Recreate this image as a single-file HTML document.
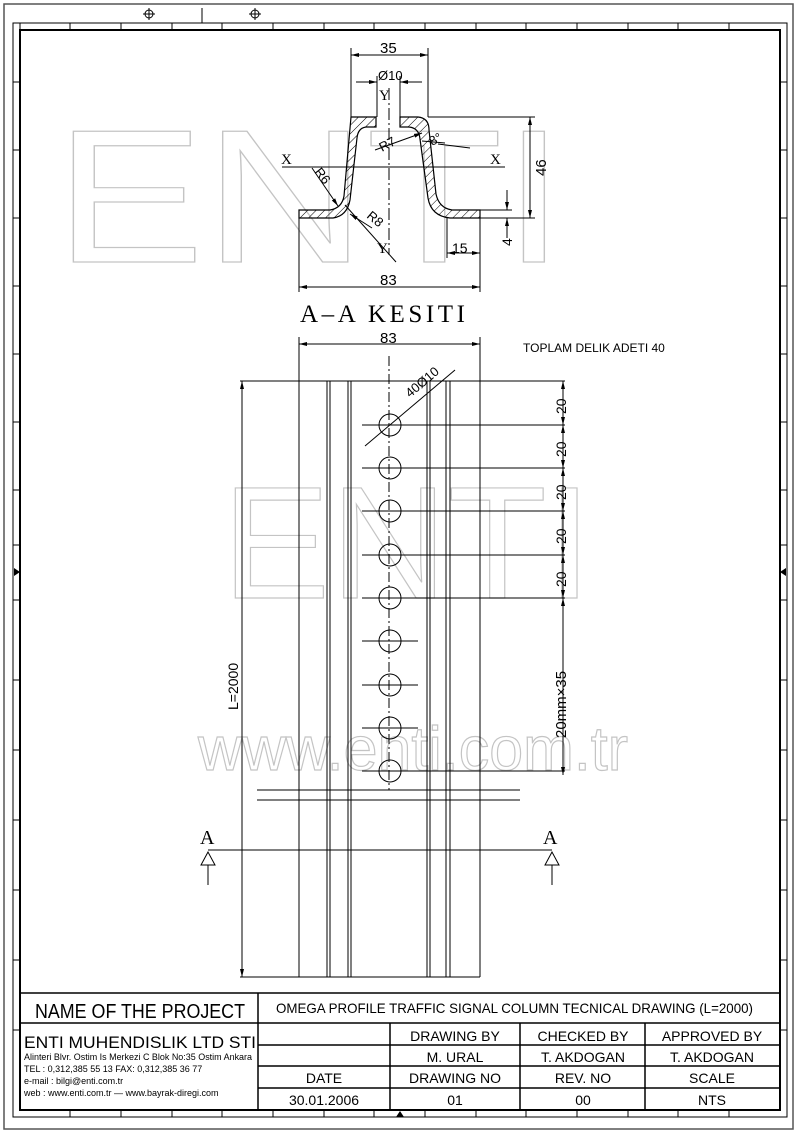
<!DOCTYPE html>
<html><head><meta charset="utf-8"><style>
html,body{margin:0;padding:0;background:#fff;width:800px;height:1133px;overflow:hidden}
svg{display:block}
text{font-family:"Liberation Sans",sans-serif;fill:#000}
.s{font-family:"Liberation Serif",serif}
</style></head><body>
<svg width="800" height="1133" viewBox="0 0 800 1133" xmlns="http://www.w3.org/2000/svg">
<defs>
<pattern id="h" width="6" height="6" patternUnits="userSpaceOnUse" patternTransform="rotate(45)">
<line x1="0" y1="0" x2="0" y2="6" stroke="#000" stroke-width="1"/></pattern>
<marker id="a" markerWidth="8" markerHeight="6" refX="8" refY="3" orient="auto-start-reverse" markerUnits="userSpaceOnUse">
<path d="M0,1 L8,3 L0,5 Z" fill="#000"/></marker>
</defs>
<!-- watermarks -->
<g font-family="Liberation Sans">
<text x="55" y="262" font-size="190" textLength="510" lengthAdjust="spacingAndGlyphs" style="fill:none;stroke:#c4c4c4;stroke-width:1.2">ENTI</text>
<text x="222" y="598" font-size="160" textLength="370" lengthAdjust="spacingAndGlyphs" style="fill:none;stroke:#c4c4c4;stroke-width:1.2">ENTI</text>
<text x="198" y="770" font-size="62" textLength="430" lengthAdjust="spacingAndGlyphs" style="fill:none;stroke:#c4c4c4;stroke-width:1.2">www.enti.com.tr</text>
</g>
<!-- frame -->
<rect x="4" y="4" width="789" height="1125" fill="none" stroke="#555" stroke-width="1.5"/>
<rect x="13" y="23" width="774" height="1094" fill="none" stroke="#000" stroke-width="1"/>
<rect x="20" y="30" width="760" height="1080" fill="none" stroke="#000" stroke-width="2"/>
<g stroke="#000" stroke-width="1">
<line x1="20" y1="23" x2="20" y2="30"/><line x1="70" y1="23" x2="70" y2="30"/><line x1="121" y1="23" x2="121" y2="30"/><line x1="172" y1="23" x2="172" y2="30"/><line x1="222" y1="23" x2="222" y2="30"/><line x1="273" y1="23" x2="273" y2="30"/><line x1="324" y1="23" x2="324" y2="30"/><line x1="374" y1="23" x2="374" y2="30"/><line x1="425" y1="23" x2="425" y2="30"/><line x1="476" y1="23" x2="476" y2="30"/><line x1="526" y1="23" x2="526" y2="30"/><line x1="577" y1="23" x2="577" y2="30"/><line x1="628" y1="23" x2="628" y2="30"/><line x1="678" y1="23" x2="678" y2="30"/><line x1="729" y1="23" x2="729" y2="30"/>
<line x1="70" y1="1110" x2="70" y2="1117"/><line x1="121" y1="1110" x2="121" y2="1117"/><line x1="172" y1="1110" x2="172" y2="1117"/><line x1="222" y1="1110" x2="222" y2="1117"/><line x1="273" y1="1110" x2="273" y2="1117"/><line x1="324" y1="1110" x2="324" y2="1117"/><line x1="374" y1="1110" x2="374" y2="1117"/><line x1="425" y1="1110" x2="425" y2="1117"/><line x1="476" y1="1110" x2="476" y2="1117"/><line x1="526" y1="1110" x2="526" y2="1117"/><line x1="577" y1="1110" x2="577" y2="1117"/><line x1="628" y1="1110" x2="628" y2="1117"/><line x1="678" y1="1110" x2="678" y2="1117"/><line x1="729" y1="1110" x2="729" y2="1117"/>
<line x1="13" y1="82" x2="20" y2="82"/><line x1="13" y1="150" x2="20" y2="150"/><line x1="13" y1="218" x2="20" y2="218"/><line x1="13" y1="286" x2="20" y2="286"/><line x1="13" y1="354" x2="20" y2="354"/><line x1="13" y1="422" x2="20" y2="422"/><line x1="13" y1="490" x2="20" y2="490"/><line x1="13" y1="545" x2="20" y2="545"/><line x1="13" y1="600" x2="20" y2="600"/><line x1="13" y1="680" x2="20" y2="680"/><line x1="13" y1="750" x2="20" y2="750"/><line x1="13" y1="820" x2="20" y2="820"/><line x1="13" y1="890" x2="20" y2="890"/><line x1="13" y1="960" x2="20" y2="960"/><line x1="13" y1="1030" x2="20" y2="1030"/>
<line x1="780" y1="82" x2="787" y2="82"/><line x1="780" y1="150" x2="787" y2="150"/><line x1="780" y1="218" x2="787" y2="218"/><line x1="780" y1="286" x2="787" y2="286"/><line x1="780" y1="354" x2="787" y2="354"/><line x1="780" y1="422" x2="787" y2="422"/><line x1="780" y1="490" x2="787" y2="490"/><line x1="780" y1="545" x2="787" y2="545"/><line x1="780" y1="600" x2="787" y2="600"/><line x1="780" y1="680" x2="787" y2="680"/><line x1="780" y1="750" x2="787" y2="750"/><line x1="780" y1="820" x2="787" y2="820"/><line x1="780" y1="890" x2="787" y2="890"/><line x1="780" y1="960" x2="787" y2="960"/><line x1="780" y1="1030" x2="787" y2="1030"/>
<line x1="202" y1="8" x2="202" y2="23"/>
<circle cx="149" cy="14" r="4" fill="none"/><line x1="143" y1="14" x2="155" y2="14"/><line x1="149" y1="8" x2="149" y2="20"/>
<circle cx="255" cy="14" r="4" fill="none"/><line x1="249" y1="14" x2="261" y2="14"/><line x1="255" y1="8" x2="255" y2="20"/>
</g>
<path d="M396,1117 L400,1111 L404,1117Z M14,568 L20,572 L14,576Z M786,568 L780,572 L786,576Z" fill="#000"/>

<!-- section profile -->
<path d="M299,210 L330,210 Q342,208 344,196 L351,117 L376,117 L376,127 L366,127 Q358,128 357,138 L350,200 Q347,216 333,218 L299,218 Z" fill="url(#h)" stroke="#000" stroke-width="1.2"/>
<path d="M400,117 L418,117 Q429,118 429,130 L436,194 Q439,208 452,210 L480,210 L480,218 L450,218 Q431,216 428,198 L420,139 Q419,128 409,127 L400,127 Z" fill="url(#h)" stroke="#000" stroke-width="1.2"/>
<g stroke="#000" stroke-width="1" fill="none">
<line x1="351" y1="117" x2="351" y2="48"/><line x1="428" y1="117" x2="428" y2="48"/>
<line x1="351" y1="55" x2="428" y2="55" marker-start="url(#a)" marker-end="url(#a)"/>
<line x1="377" y1="117" x2="377" y2="76"/><line x1="400" y1="117" x2="400" y2="76"/>
<line x1="356" y1="82" x2="377" y2="82" marker-end="url(#a)"/><line x1="422" y1="82" x2="400" y2="82" marker-end="url(#a)"/>
<line x1="389" y1="88" x2="389" y2="255" stroke-dasharray="12,3,2,3"/>
<line x1="282" y1="167" x2="505" y2="167"/>
<line x1="428" y1="117" x2="535" y2="117"/><line x1="480" y1="218" x2="535" y2="218"/>
<line x1="530" y1="117" x2="530" y2="218" marker-start="url(#a)" marker-end="url(#a)"/>
<line x1="480" y1="210" x2="512" y2="210"/>
<line x1="507" y1="190" x2="507" y2="210" marker-end="url(#a)"/><line x1="507" y1="238" x2="507" y2="218" marker-end="url(#a)"/>
<line x1="447" y1="218" x2="447" y2="258"/><line x1="480" y1="218" x2="480" y2="292"/><line x1="299" y1="218" x2="299" y2="292"/>
<line x1="447" y1="253" x2="480" y2="253" marker-start="url(#a)" marker-end="url(#a)"/>
<line x1="299" y1="287" x2="480" y2="287" marker-start="url(#a)" marker-end="url(#a)"/>
<line x1="375" y1="150" x2="422" y2="133" marker-end="url(#a)"/>
<line x1="438" y1="144" x2="470" y2="148"/><line x1="445" y1="143" x2="422" y2="141" />
<line x1="312" y1="168" x2="338" y2="206" marker-end="url(#a)"/>
<line x1="345" y1="205" x2="396" y2="262"/><line x1="372" y1="228" x2="350" y2="214" marker-end="url(#a)"/>
</g>
<g font-size="15">
<text x="380" y="53">35</text>
<text x="378" y="80" font-size="13">Ø10</text>
<text x="379" y="100" class="s" font-size="15">Y</text>
<text x="377" y="253" class="s" font-size="15">Y</text>
<text x="281" y="164" class="s" font-size="15">X</text>
<text x="490" y="164" class="s" font-size="15">X</text>
<text x="452" y="253" font-size="14">15</text>
<text x="380" y="285">83</text>
<text transform="translate(546,176) rotate(-90)">46</text>
<text transform="translate(512,246) rotate(-90)" font-size="14">4</text>
<text transform="translate(382,152) rotate(-28)" font-size="13">R7</text>
<text transform="translate(314,172) rotate(52)" font-size="13">R6</text>
<text transform="translate(366,217) rotate(40)" font-size="13">R8</text>
<text transform="translate(432,146) rotate(-28)" font-size="13">8°</text>
</g>
<text x="300" y="322" class="s" font-size="25" textLength="165" lengthAdjust="spacing">A–A  KESITI</text>

<!-- column -->
<g stroke="#000" stroke-width="1" fill="none">
<line x1="299" y1="337" x2="299" y2="977"/><line x1="480" y1="337" x2="480" y2="977"/>
<line x1="299" y1="344" x2="480" y2="344" marker-start="url(#a)" marker-end="url(#a)"/>
<line x1="327" y1="381" x2="327" y2="977"/><line x1="330" y1="381" x2="330" y2="977"/>
<line x1="348" y1="381" x2="348" y2="977"/><line x1="351" y1="381" x2="351" y2="977"/>
<line x1="427" y1="381" x2="427" y2="977"/><line x1="430" y1="381" x2="430" y2="977"/>
<line x1="446" y1="381" x2="446" y2="977"/><line x1="450" y1="381" x2="450" y2="977"/>
<line x1="240" y1="381" x2="565" y2="381"/><line x1="240" y1="977" x2="480" y2="977"/>
<line x1="242" y1="381" x2="242" y2="977" marker-start="url(#a)" marker-end="url(#a)"/>
<line x1="389" y1="356" x2="389" y2="790" stroke-dasharray="10,3,2,3"/>
<line x1="257" y1="790" x2="520" y2="790"/><line x1="257" y1="800" x2="520" y2="800"/>
<line x1="563" y1="381" x2="563" y2="425" marker-start="url(#a)" marker-end="url(#a)"/>
<line x1="563" y1="425" x2="563" y2="468" marker-start="url(#a)" marker-end="url(#a)"/>
<line x1="563" y1="468" x2="563" y2="511" marker-start="url(#a)" marker-end="url(#a)"/>
<line x1="563" y1="511" x2="563" y2="555" marker-start="url(#a)" marker-end="url(#a)"/>
<line x1="563" y1="555" x2="563" y2="598" marker-start="url(#a)" marker-end="url(#a)"/>
<line x1="563" y1="598" x2="563" y2="775" marker-start="url(#a)" marker-end="url(#a)"/>
<line x1="365" y1="446" x2="455" y2="370"/>
<line x1="208" y1="850" x2="552" y2="850"/>
<path d="M208,852 L201,865 L215,865 Z M208,865 L208,885 M552,852 L545,865 L559,865 Z M552,865 L552,885"/>
</g>
<g stroke="#000" stroke-width="1" fill="none">
<circle cx="390" cy="425" r="11"/><circle cx="390" cy="468" r="11"/><circle cx="390" cy="511" r="11"/><circle cx="390" cy="555" r="11"/><circle cx="390" cy="598" r="11"/><circle cx="390" cy="641" r="11"/><circle cx="390" cy="685" r="11"/><circle cx="390" cy="728" r="11"/><circle cx="390" cy="771" r="11"/>
<line x1="362" y1="425" x2="565" y2="425"/><line x1="362" y1="468" x2="565" y2="468"/><line x1="362" y1="511" x2="565" y2="511"/><line x1="362" y1="555" x2="565" y2="555"/><line x1="362" y1="598" x2="565" y2="598"/>
<line x1="362" y1="641" x2="418" y2="641"/><line x1="362" y1="685" x2="418" y2="685"/><line x1="362" y1="728" x2="418" y2="728"/><line x1="362" y1="771" x2="565" y2="771"/>
</g>
<g font-size="15">
<text x="380" y="343">83</text>
<text x="523" y="352" font-size="12">TOPLAM DELIK ADETI 40</text>
<text transform="translate(410,398) rotate(-40)" font-size="13">40Ø10</text>
<text transform="translate(566,414) rotate(-90)" font-size="14">20</text>
<text transform="translate(566,457) rotate(-90)" font-size="14">20</text>
<text transform="translate(566,500) rotate(-90)" font-size="14">20</text>
<text transform="translate(566,544) rotate(-90)" font-size="14">20</text>
<text transform="translate(566,587) rotate(-90)" font-size="14">20</text>
<text transform="translate(566,738) rotate(-90)" font-size="15">20mm×35</text>
<text transform="translate(238,710) rotate(-90)" font-size="14">L=2000</text>
<text x="200" y="844" class="s" font-size="20">A</text>
<text x="543" y="844" class="s" font-size="20">A</text>
</g>

<!-- title block -->
<g stroke="#000" stroke-width="1.5" fill="none">
<line x1="20" y1="993" x2="780" y2="993"/>
<line x1="20" y1="1023" x2="780" y2="1023"/>
<line x1="258" y1="1045" x2="780" y2="1045"/>
<line x1="258" y1="1066" x2="780" y2="1066"/>
<line x1="258" y1="1088" x2="780" y2="1088"/>
<line x1="258" y1="993" x2="258" y2="1110"/>
<line x1="390" y1="1023" x2="390" y2="1110"/>
<line x1="520" y1="1023" x2="520" y2="1110"/>
<line x1="645" y1="1023" x2="645" y2="1110"/>
</g>
<g font-size="14">
<text x="35" y="1018" font-size="20" textLength="210" lengthAdjust="spacingAndGlyphs">NAME OF THE PROJECT</text>
<text x="276" y="1013" font-size="14" textLength="477" lengthAdjust="spacingAndGlyphs">OMEGA PROFILE TRAFFIC SIGNAL COLUMN TECNICAL DRAWING   (L=2000)</text>
</g>
<g font-size="14" text-anchor="middle">
<text x="455" y="1041">DRAWING BY</text><text x="583" y="1041">CHECKED BY</text><text x="712" y="1041">APPROVED BY</text>
<text x="455" y="1062">M. URAL</text><text x="583" y="1062">T. AKDOGAN</text><text x="712" y="1062">T. AKDOGAN</text>
<text x="324" y="1083">DATE</text><text x="455" y="1083">DRAWING NO</text><text x="583" y="1083">REV. NO</text><text x="712" y="1083">SCALE</text>
<text x="324" y="1105">30.01.2006</text><text x="455" y="1105">01</text><text x="583" y="1105">00</text><text x="712" y="1105">NTS</text>
</g>
<g font-size="9">
<text x="24" y="1048" font-size="17" textLength="232" lengthAdjust="spacingAndGlyphs">ENTI MUHENDISLIK LTD STI</text>
<text x="24" y="1060" textLength="228" lengthAdjust="spacingAndGlyphs">Alinteri Blvr. Ostim Is Merkezi C Blok No:35 Ostim Ankara</text>
<text x="24" y="1072">TEL : 0,312,385 55 13  FAX: 0,312,385 36 77</text>
<text x="24" y="1084">e-mail : bilgi@enti.com.tr</text>
<text x="24" y="1096">web   : www.enti.com.tr   —   www.bayrak-diregi.com</text>
</g>
</svg>
</body></html>
